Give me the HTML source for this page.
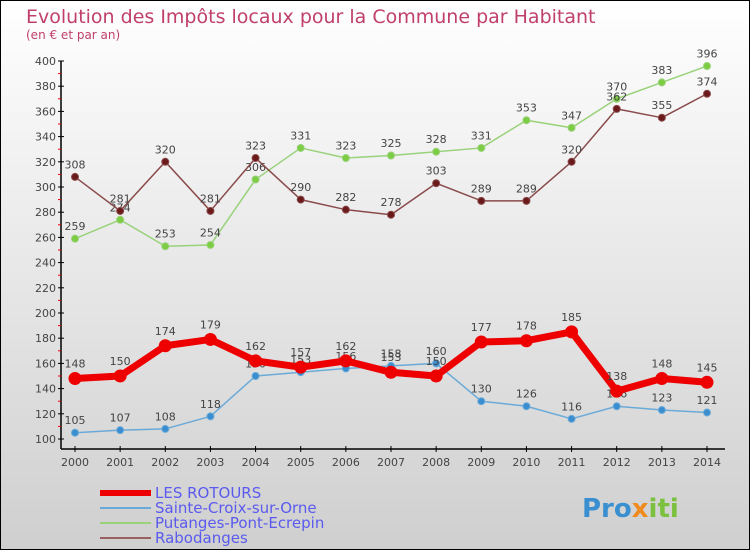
<!DOCTYPE html>
<html><head><meta charset="utf-8"><style>
body{margin:0}
#wrap{width:750px;height:550px;position:relative;overflow:hidden}
svg text{font-family:"DejaVu Sans","Liberation Sans",sans-serif}
</style></head><body>
<div id="wrap">
<svg id="c" width="750" height="550" xmlns="http://www.w3.org/2000/svg">
<defs><linearGradient id="bg" x1="0" y1="0" x2="0" y2="1"><stop offset="0" stop-color="#ffffff"/><stop offset="1" stop-color="#cfcfcf"/></linearGradient></defs>
<rect x="0.5" y="0.5" width="749" height="549" fill="url(#bg)" stroke="#000"/>
<text x="26" y="23" font-size="19" fill="#c0406a">Evolution des Impôts locaux pour la Commune par Habitant</text>
<text x="26" y="39" font-size="12" fill="#c0406a">(en € et par an)</text>
<g id="axes"></g><g id="series"></g><g id="legend"></g>
<text x="582" y="517" font-size="26" font-weight="bold" fill="#3a8fd0">Pro<tspan fill="#f08a1c">x</tspan><tspan fill="#7cc040">iti</tspan></text>
</svg></div>
<script>
const years=[2000,2001,2002,2003,2004,2005,2006,2007,2008,2009,2010,2011,2012,2013,2014];
const yTicks=[100,120,140,160,180,200,220,240,260,280,300,320,340,360,380,400];
const rotours=[148,150,174,179,162,157,162,153,150,177,178,185,138,148,145];
const sainteCroix=[105,107,108,118,150,153,156,158,160,130,126,116,126,123,121];
const putanges=[259,274,253,254,306,331,323,325,328,331,353,347,370,383,396];
const rabodanges=[308,281,320,281,323,290,282,278,303,289,289,320,362,355,374];
const NS="http://www.w3.org/2000/svg";
const X=i=>75+i*(707-75)/14;
const Y=v=>439-(v-100)*(439-61)/300;
function mk(t,a,p){const e=document.createElementNS(NS,t);for(const k in a)e.setAttribute(k,a[k]);p.appendChild(e);return e;}
const ax=document.getElementById('axes');
const yAxis=mk('line',{x1:61,y1:61,x2:61,y2:449,stroke:'#000','stroke-width':1.5},ax);


const xAxis=mk('line',{x1:61,y1:449,x2:725,y2:449,stroke:'#000','stroke-width':1.5},ax);


yTicks.forEach(v=>{
 mk('line',{x1:58,y1:Y(v),x2:64,y2:Y(v),stroke:'#000'},ax);
 if(v<400)mk('line',{x1:58,y1:Y(v+10),x2:61,y2:Y(v+10),stroke:'#e00'},ax);
 const t=mk('text',{x:56,y:Y(v)+4,'font-size':11,fill:'#444','text-anchor':'end'},ax);
 t.textContent=v;
 
 
});
years.forEach((y,i)=>{
 mk('line',{x1:X(i),y1:446,x2:X(i),y2:452,stroke:'#000'},ax);
 const t=mk('text',{x:X(i),y:466,'font-size':11,fill:'#444','text-anchor':'middle'},ax);
 t.textContent=y;
 
 
});
const sg=document.getElementById('series');
function series(vals,color,dot,w,r,name,labelUp){
 const g=mk('g',{},sg);
 
 
 mk('polyline',{points:vals.map((v,i)=>X(i)+','+Y(v)).join(' '),fill:'none',stroke:color,'stroke-width':w,'stroke-linejoin':'round'},g);
 vals.forEach((v,i)=>{
  const c=mk('circle',{cx:X(i),cy:Y(v),r:r,fill:dot,stroke:color,'stroke-width':1},g);
  
  
  const t=mk('text',{x:X(i),y:Y(v)-(r+5),'font-size':11,fill:'#444','text-anchor':'middle'},g);
  t.textContent=v;
  
  
 });
}
series(putanges,'#99d27a','#7ccc44',1.5,3.5,'putanges-series');
series(rabodanges,'#8a4a4a','#6a1a1a',1.5,3.5,'rabodanges-series');
series(sainteCroix,'#6aaad8','#3a8ed0',1.5,3.5,'sainte-croix-series');
series(rotours,'#ee0000','#ee0000',7,6,'rotours-series');
const lg=document.getElementById('legend');
[['LES ROTOURS','#ee0000',6],['Sainte-Croix-sur-Orne','#6aaad8',2],['Putanges-Pont-Ecrepin','#99d27a',2],['Rabodanges','#9a6060',2]].forEach((d,i)=>{
 const y=493+i*15;
 const g=mk('g',{},lg);
 
 
 mk('line',{x1:100,y1:y,x2:151,y2:y,stroke:d[1],'stroke-width':d[2]},g);
 const t=mk('text',{x:155,y:y+5,'font-size':15,fill:'#5a5aee'},g);
 t.textContent=d[0];
});
</script>
</body></html>
